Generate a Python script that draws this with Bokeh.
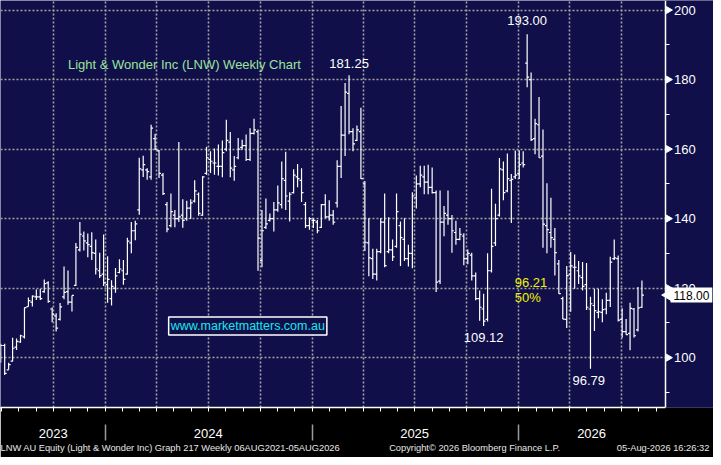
import math
import pandas as pd
from bokeh.plotting import figure
from bokeh.models import (Range1d, LinearAxis, FixedTicker, Grid, Label, ColumnDataSource,
                          BoxAnnotation)
from bokeh.embed import file_html
from bokeh.resources import INLINE

# ---------------- data (weekly OHLC) ----------------
last_week = "2026-08-07"

highs = [104, 104, 98.5, 105.7, 105.5, 106.6, 114.4, 117.3, 117.9, 119.6,
         119.8, 122.5, 122, 114.4, 112.8, 115.7, 126.2, 125.1, 117.9, 133,
         139, 136.3, 135.7, 136.1, 134, 130.2, 135.4, 129.2, 122.3, 125.8,
         128.3, 128.1, 134.5, 139, 139.4, 157.5, 158.1, 154.5, 167, 164.4,
         159.7, 153.1, 144.8, 147.2, 142.5, 162, 145.6, 145.1, 145.6, 151,
         147.5, 152.2, 160.7, 159.4, 160.2, 161.3, 162.5, 168.4, 164.9, 158,
         163.2, 162.7, 164.2, 166, 168.7, 165.6, 142.5, 145.8, 141.5, 144.8,
         149.5, 156.4, 159.2, 147.6, 154.2, 155.7, 154.5, 144.8, 140.4, 140.1,
         139.6, 144.2, 147, 145.3, 142.5, 156.8, 172.4, 179, 181.25, 166,
         166.8, 171.9, 150.8, 140.1, 131.3, 131.3, 140.1, 147.2, 140.4, 134,
         147.2, 139.2, 140.1, 132.5, 147.6, 152.4, 155.2, 155.2, 155.5, 154.7,
         148.1, 148.1, 143.6, 148.1, 141, 139.4, 137.3, 135.8, 131.1, 130.2,
         124.5, 119.3, 118.4, 130, 148.6, 144.3, 157.4, 156.4, 158.7, 152.8,
         159.6, 159.6, 159.4, 193, 182, 168.7, 175, 165.6, 150.2, 146,
         137.3, 128.1, 117.5, 126.4, 130.4, 129.7, 127.8, 127.5, 127.2, 117.5,
         119.8, 119.8, 116.8, 118.7, 129, 134, 129.4, 114.2, 111.1, 115.8,
         114.3, 120.3, 122.2]

lows = [98.5, 95, 96.5, 98.9, 102.2, 104.3, 105.5, 114.7, 114.7, 116.6,
        116.6, 118.7, 115.8, 110.2, 107.5, 110.7, 116.8, 115.2, 113.3, 120.6,
        130.5, 130.8, 128.9, 128.1, 123.9, 122.9, 120.6, 115.8, 115, 118.7,
        124.3, 121, 123.9, 130, 133.8, 141.1, 152, 151.2, 151.2, 159.7,
        151.7, 146.8, 136.1, 137.5, 137.5, 139, 137.4, 139.4, 139.9, 144.6,
        140.8, 140.8, 152.6, 153.1, 152.6, 152.4, 151.9, 159.4, 151.9, 150.9,
        157.1, 159.9, 156.6, 156.6, 164.2, 125, 126, 137, 139.2, 136.3,
        142, 142.9, 142.5, 139.2, 147.2, 149, 144.8, 137.3, 136.8, 137.3,
        135.8, 137.3, 140.1, 139.4, 138.2, 143.2, 151.7, 158, 164.3, 159.4,
        162.3, 151.4, 130.7, 123.4, 122.6, 122.2, 130, 126, 130, 127.8,
        131.6, 126.4, 127.8, 126.2, 125.7, 142.9, 149, 147, 147, 147.2,
        118.9, 121.2, 134.9, 138.2, 130.2, 132.5, 133.8, 126.6, 126.9, 122.2,
        116.5, 110.6, 109.12, 110.4, 124.5, 132.1, 140.6, 145.3, 147.6, 138.7,
        151.4, 151.4, 154.7, 177.8, 162.3, 158.5, 157.5, 131.6, 130, 131.6,
        123.6, 118.4, 111.1, 108.5, 113.2, 119.8, 121.2, 119.3, 113.7, 96.79,
        107.7, 111.3, 110.2, 112.5, 114.6, 128.1, 110.4, 105.7, 106.6, 102.1,
        105.8, 107.5, 114.3]

opens = [101, 103.5, 96.5, 99, 103, 104.5, 106, 114.7, 116, 117.5,
         117.5, 119, 121.5, 114, 112, 111, 117.5, 119, 116, 120.8,
         131, 135, 133, 132, 130, 125, 124, 121, 117, 120,
         124.5, 125, 124, 133, 136.5, 142.5, 154, 154, 152, 163,
         159.5, 152.5, 144, 138, 141, 140, 141, 140, 143, 145,
         147, 141, 153, 157, 156, 155, 155, 160, 162, 154,
         157.5, 160.5, 161, 157, 164.5, 165, 128, 137.5, 139.5, 140,
         142.5, 144, 151, 145, 147.5, 152, 151, 144, 138, 139.5,
         139, 137.5, 144, 140.5, 141, 144.5, 155, 164, 176, 165,
         162.5, 165, 150, 133, 128.5, 124, 130.5, 139, 130.5, 131,
         132, 138, 134, 128.5, 130, 146, 150, 152, 150.5, 149,
         147.5, 122, 139, 141, 140, 136, 134, 135, 128.5, 129.5,
         123.5, 117, 114, 111, 125, 133, 141, 154, 148, 151,
         152, 153, 156, 184.7, 180, 163, 167, 158, 138, 136,
         134, 127, 117, 111, 124, 126, 125, 123, 121, 114,
         115, 113, 113, 114, 116.5, 128.5, 128.5, 111, 107.5, 107,
         114, 108, 114.5]

closes = [103.5, 95.5, 98, 102.7, 104.7, 106.3, 114.4, 116.4, 117.7, 117.5,
          117, 121.3, 116.2, 112.5, 108.5, 114.6, 118.8, 116, 117.9, 131.7,
          135.5, 133.6, 132.5, 130.2, 125.5, 123.6, 121.5, 122.5, 120.5, 123.5,
          125.5, 122.5, 133.5, 136.5, 138.5, 154.3, 155.5, 153.5, 166, 160,
          153, 147.2, 137, 142, 140, 140.5, 139.5, 143, 144.5, 148,
          141.5, 152, 157.5, 156.5, 156, 155, 159, 162.5, 154.5, 155,
          160, 161, 157, 164.5, 165.5, 134.4, 136.5, 138.5, 140, 142.5,
          144.5, 151.5, 146.5, 147, 152.5, 151.5, 147.5, 138, 140, 139.5,
          136.5, 144, 140.5, 141, 139, 155, 164, 176.4, 165, 161.5,
          165.5, 151.5, 133.2, 128.7, 124, 130.5, 139, 126.5, 131, 129,
          142, 134.5, 128.5, 130, 146.5, 150, 152.5, 150.5, 149, 147.5,
          121.7, 139, 141.5, 140, 136.5, 134, 135.5, 128.5, 130, 123.5,
          117, 114.5, 110.5, 125, 132, 140, 154.3, 147.5, 151.5, 151.3,
          152.5, 155.5, 155.5, 180.7, 162.7, 167.3, 157.5, 138.4, 136.8, 134.5,
          130.2, 118.4, 111.1, 123.6, 126.4, 126, 123.5, 120.5, 114.5, 115.5,
          113.5, 113.2, 113.8, 116.5, 127.5, 128.7, 110.8, 107.5, 106.6, 114.2,
          106.3, 114.3, 118]

y_major = [100, 120, 140, 160, 180, 200]
y_minor = [90, 110, 130, 150, 170, 190]
year_labels = ["2023", "2024", "2025", "2026"]
year_label_dates = ["2023-10-01", "2024-07-01", "2025-07-01", "2026-05-10"]
year_starts = ["2024-01-01", "2025-01-01", "2026-01-01"]
quarter_starts = ["2023-10-01", "2024-01-01", "2024-04-01", "2024-07-01", "2024-10-01",
                  "2025-01-01", "2025-04-01", "2025-07-01", "2025-10-01", "2026-01-01",
                  "2026-04-01", "2026-07-01"]
month_starts = [d.strftime("%Y-%m-%d") for d in pd.date_range("2023-07-01", "2026-09-01", freq="MS")]
footer_texts = ["LNW AU Equity (Light & Wonder Inc) Graph 217 Weekly 06AUG2021-05AUG2026",
                "Copyright\u00a9 2026 Bloomberg Finance L.P.",
                "05-Aug-2026 16:26:32"]

last_price = closes[-1]

# ---------------- helpers ----------------
DAY = 86400000.0
REF_PX_PER_DAY = 0.5718          # horizontal scale of the reference picture


def ms(d):
    return pd.Timestamp(d).value / 1e6


x_start = ms("2024-01-01") - 106 / REF_PX_PER_DAY * DAY
x_end = x_start + 721 / REF_PX_PER_DAY * DAY
x_axis_loc = x_start + 672 / REF_PX_PER_DAY * DAY      # where the value axis sits
W, H = 713, 457
PX = (x_end - x_start) / W                              # ms per screen pixel


def ref_x(px):
    return x_start + px / REF_PX_PER_DAY * DAY


n = len(closes)
dates = pd.date_range(end=last_week, periods=n, freq="7D")
x_ms = [ms(d) for d in dates]
tick = 3.5 * DAY

src = ColumnDataSource(dict(
    x=x_ms, o=opens, h=highs, l=lows, c=closes,
    xl=[v - tick for v in x_ms], xr=[v + tick for v in x_ms],
))

NAVY = "#100f49"
GRID = "#a3a3a3"
FONT = "Liberation Sans"

p = figure(width=W, height=H, x_axis_type=None, y_axis_type=None,
           x_range=Range1d(x_start, x_end), y_range=Range1d(85.66, 202.74),
           output_backend="svg", toolbar_location=None,
           min_border_left=0, min_border_right=0, min_border_top=0, min_border_bottom=50,
           background_fill_color=NAVY, border_fill_color="black", outline_line_color=None)

# grids
p.add_layout(Grid(dimension=0, ticker=FixedTicker(ticks=[ms(d) for d in quarter_starts]),
                  grid_line_color=GRID, grid_line_dash="2 2", grid_line_width=1.6))
p.add_layout(Grid(dimension=1, ticker=FixedTicker(ticks=y_major),
                  grid_line_color=GRID, grid_line_dash="2 2", grid_line_width=1.6))
# keep the area right of the value axis free of grid lines
p.add_layout(BoxAnnotation(left=x_axis_loc, fill_color=NAVY, fill_alpha=1.0,
                           line_color=None, level="underlay"))

# right value axis, fixed at the right edge of the price area
yax = LinearAxis(ticker=FixedTicker(ticks=y_major, minor_ticks=y_minor),
                 fixed_location=x_axis_loc,
                 axis_line_color="white", axis_line_width=1.5,
                 major_tick_line_color=None, major_tick_in=0, major_tick_out=7,
                 minor_tick_line_color="white", minor_tick_line_width=1,
                 minor_tick_in=0, minor_tick_out=4,
                 major_label_standoff=2,
                 major_label_text_color="white", major_label_text_font=FONT,
                 major_label_text_font_size="13px")
p.add_layout(yax, "right")
# arrow-shaped major ticks
p.scatter([x_axis_loc + 3.3 * PX] * len(y_major), y_major, marker="triangle",
          angle=-math.pi / 2, size=7, fill_color="white", line_color="white")

# bottom date axis: monthly ticks + year labels
label_ms = [ms(d) for d in year_label_dates]
xax = LinearAxis(ticker=FixedTicker(ticks=label_ms, minor_ticks=[ms(d) for d in month_starts]),
                 major_label_overrides=dict(zip(label_ms, year_labels)),
                 bounds=(x_start, x_axis_loc),
                 axis_line_color="white", axis_line_width=1.5,
                 major_tick_line_color=None, major_tick_in=0, major_tick_out=0,
                 minor_tick_line_color="white", minor_tick_line_width=1,
                 minor_tick_in=0, minor_tick_out=4,
                 major_label_standoff=17,
                 major_label_text_color="white", major_label_text_font=FONT,
                 major_label_text_font_size="13px")
p.add_layout(xax, "below")

# year separators
ys_ms = [ms(d) for d in year_starts]
sep = LinearAxis(ticker=FixedTicker(ticks=ys_ms, minor_ticks=[]),
                 major_label_overrides={v: "" for v in ys_ms},
                 axis_line_color=None,
                 major_tick_line_color="#9a9a9a", major_tick_line_width=1.5,
                 major_tick_in=16, major_tick_out=0,
                 major_label_standoff=0, major_label_text_font_size="1px")
p.add_layout(sep, "below")

# footer line
foot_ms = [ref_x(170), ref_x(479.5), ref_x(670)]
foot = LinearAxis(ticker=FixedTicker(ticks=foot_ms, minor_ticks=[]),
                  major_label_overrides=dict(zip(foot_ms, footer_texts)),
                  axis_line_color=None, major_tick_line_color=None,
                  major_tick_in=0, major_tick_out=0, major_label_standoff=2,
                  major_label_text_color="#e8e8e8", major_label_text_font=FONT,
                  major_label_text_font_size="9.3px")
p.add_layout(foot, "below")

# OHLC bars
p.segment("x", "l", "x", "h", source=src, line_color="white", line_width=1.2)
p.segment("xl", "o", "x", "o", source=src, line_color="white", line_width=1.2)
p.segment("x", "c", "xr", "c", source=src, line_color="white", line_width=1.2)


# annotations
def lab(x, y, text, color="white", align="center", size="13px", **kw):
    p.add_layout(Label(x=x, y=y, text=text, text_color=color, text_align=align,
                       text_baseline="middle", text_font=FONT, text_font_size=size, **kw))


lab(ms("2023-10-27"), 184.4, "Light & Wonder Inc (LNW) Weekly Chart", color="#9be39b", align="left")
lab(x_ms[highs.index(max(highs[:100]))], 184.6, "181.25")
lab(x_ms[highs.index(max(highs))], 197.1, "193.00")
lab(x_ms[lows.index(109.12)], 105.7, "109.12")
lab(ms("2026-05-05"), 93.3, "96.79")
lab(ms("2025-12-25"), 121.6, "96.21", color="#f2f200", align="left")
lab(ms("2025-12-25"), 117.4, "50%", color="#f2f200", align="left")
lab(ms("2024-04-22"), 109.1, "www.marketmatters.com.au", color="#19e6f0", align="left",
    size="12.5px", background_fill_color=NAVY, border_line_color="white",
    border_line_width=1.5, padding=2)

# last price box on the axis
p.scatter([x_axis_loc + 3.0 * PX], [last_price], marker="triangle", angle=math.pi / 2,
          size=11, fill_color="white", line_color="white")
p.add_layout(Label(x=670, x_units="screen", y=last_price, text="%.2f" % last_price,
                   text_color="black", text_font=FONT, text_font_size="12px",
                   text_baseline="middle", background_fill_color="white",
                   padding=3, level="overlay"))

open("out.html", "w").write(file_html(p, INLINE))
